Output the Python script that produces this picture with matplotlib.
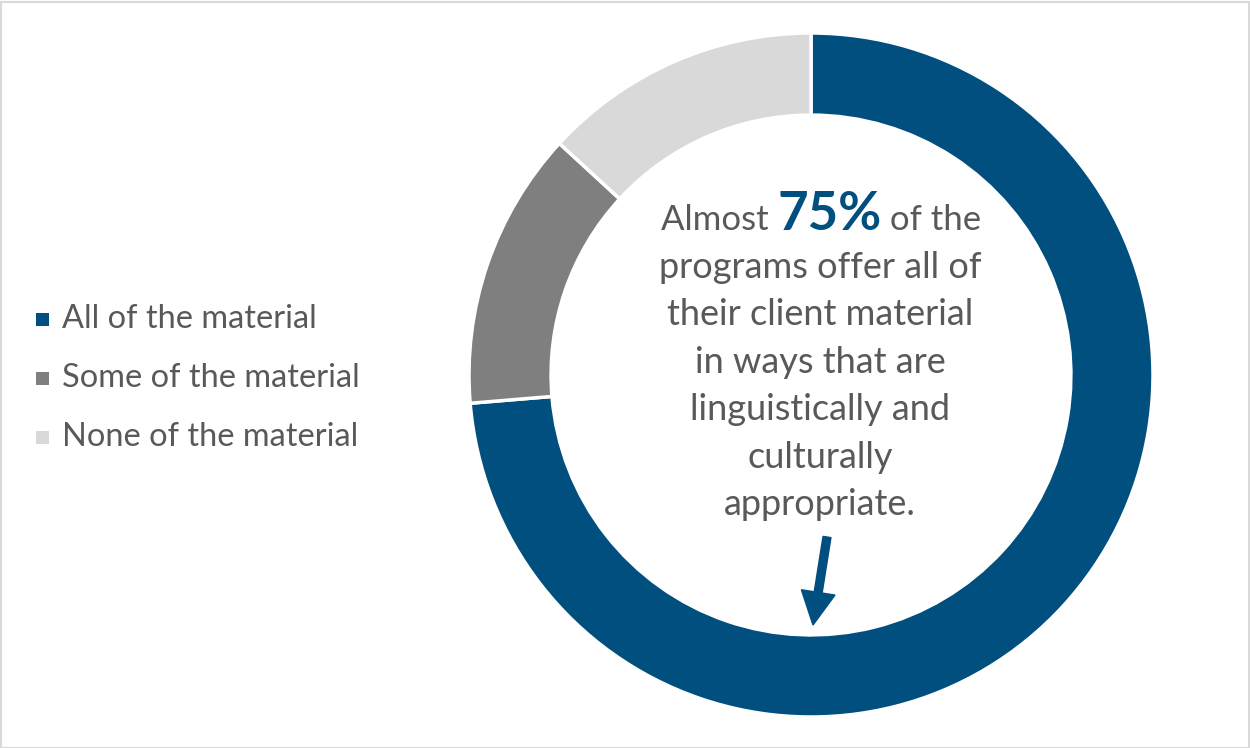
import matplotlib
matplotlib.use("Agg")
import matplotlib.pyplot as plt
from matplotlib.patches import FancyArrow, Rectangle

categories = ["All of the material", "Some of the material", "None of the material"]
values = [28, 5, 5]
colors = ["#004F7F", "#7F7F7F", "#D9D9D9"]
headline_pre = "Almost "
headline_pct = "75%"
headline_post = " of the"
body_lines = ["programs offer all of", "their client material", "in ways that are",
              "linguistically and", "culturally", "appropriate."]

FONT = "Lato"
TXT = "#595959"
W, H = 1250, 748
fig = plt.figure(figsize=(W / 100, H / 100), dpi=100)
fig.patch.set_facecolor("white")

cx, cy, R = 811, 375, 342
ax = fig.add_axes([(cx - R) / W, (H - cy - R) / H, 2 * R / W, 2 * R / H])
wedges, _ = ax.pie(values, colors=colors, startangle=90, counterclock=False, radius=1,
                   wedgeprops=dict(width=0.24, edgecolor="white", linewidth=2.5))
ax.set_xlim(-1, 1)
ax.set_ylim(-1, 1)
ax.set_aspect("equal")
ax.axis("off")

# legend
for i, (lab, col) in enumerate(zip(categories, colors)):
    y = 1 - (319 + 59 * i) / H
    fig.patches.append(Rectangle((36 / W, y - 7 / H), 13 / W, 13 / H, transform=fig.transFigure,
                                 facecolor=col, edgecolor="none"))
    fig.text(62 / W, y, lab, fontsize=23.4, color=TXT, family=FONT, va="center", ha="left")

# annotation
fig.canvas.draw()
r = fig.canvas.get_renderer()
fs = 26
parts = [(headline_pre, dict(color=TXT, fontsize=25)),
         (headline_pct, dict(color="#004F7F", fontsize=38, fontweight="bold")),
         (headline_post, dict(color=TXT, fontsize=25))]
objs = []
for s, kw in parts:
    t = fig.text(0, 0.5, s, family=FONT, va="baseline", ha="left", **kw)
    objs.append(t)
widths = [o.get_window_extent(r).width for o in objs]
total = sum(widths)
x = 821 - total / 2
ybase = 1 - 230 / H
for o, w in zip(objs, widths):
    o.set_position((x / W, ybase))
    x += w
for i, line in enumerate(body_lines):
    fig.text(820 / W, 1 - (277.5 + 47.5 * i) / H, line, fontsize=fs, color=TXT, family=FONT,
             ha="center", va="baseline")

# arrow
ax.add_patch(FancyArrow((827 - cx) / R, -(537 - cy) / R, (813 - 827) / R, -(625 - 537) / R,
                        width=8 / R, head_width=34 / R, head_length=33 / R,
                        length_includes_head=True, color="#004F7F"))

# border
fig.patches.append(Rectangle((0.5 / W, 0.5 / H), (W - 2) / W, (H - 2) / H, transform=fig.transFigure,
                             facecolor="none", edgecolor="#D9D9D9", linewidth=1.5))

fig.savefig("out.png", dpi=100)
